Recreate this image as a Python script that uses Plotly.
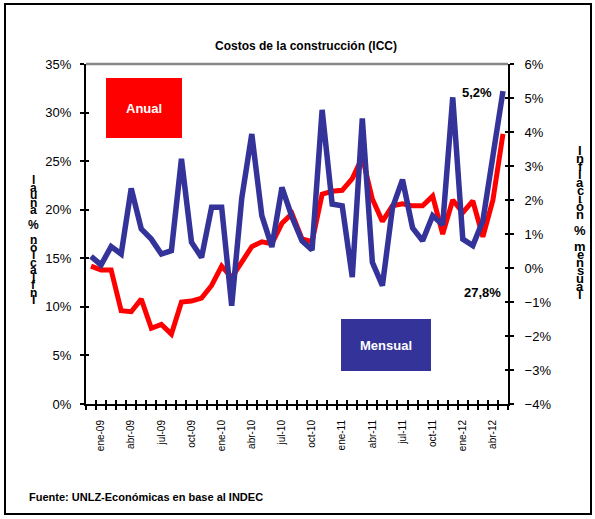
import plotly.graph_objects as go

# ---------------- data ----------------
month_abbr = ["ene", "feb", "mar", "abr", "may", "jun", "jul", "ago", "sep", "oct", "nov", "dic"]
start_year, start_month = 2008, 12  # first category: dic-08
n_points = 42
categories = []
for k in range(n_points):
    m = (start_month - 1 + k) % 12
    y = start_year + (start_month - 1 + k) // 12
    categories.append(f"{month_abbr[m]}-{str(y)[2:]}")

anual = [14.2, 13.8, 13.8, 9.6, 9.5, 10.8, 7.8, 8.2, 7.2, 10.5,
         10.6, 10.9, 12.2, 14.2, 13.0, 14.6, 16.2, 16.7, 16.5, 18.6,
         19.6, 17.0, 16.7, 21.6, 21.9, 22.0, 23.2, 25.4, 21.1, 18.8,
         20.4, 20.6, 20.4, 20.4, 21.4, 17.5, 21.0, 19.7, 20.9, 17.2,
         21.0, 27.8]
mensual = [0.34, 0.09, 0.63, 0.41, 2.34, 1.15, 0.85, 0.41, 0.51, 3.21,
           0.76, 0.31, 1.79, 1.79, -1.11, 2.05, 3.94, 1.54, 0.62, 2.37,
           1.50, 0.80, 0.53, 4.65, 1.88, 1.83, -0.27, 4.40, 0.17, -0.52,
           1.77, 2.60, 1.18, 0.80, 1.54, 1.27, 5.02, 0.85, 0.66, 1.39,
           3.30, 5.20]
label_idx = list(range(1, n_points, 3))
tick_labels = [categories[i] for i in label_idx]

title_text = "Costos de la construcción (ICC)"
left_title = "Inflación % anual"
right_title = "Inflación % mensual"
source_text = "Fuente: UNLZ-Económicas en base al INDEC"

# ---------------- layout geometry (pixels) ----------------
W, H = 595, 519
L, R, T, B = 86, 508, 64, 404
FONT = "Arial, Liberation Sans, sans-serif"
RED = "#FF0000"
BLUE = "#333399"


def px(xp):
    return (xp - L) / (R - L)


def py(yp):
    return (B - yp) / (B - T)


x = list(range(n_points))

fig = go.Figure()
fig.add_trace(go.Scatter(x=x, y=anual, mode="lines", line=dict(color=RED, width=5),
                         xaxis="x", yaxis="y", showlegend=False, hoverinfo="skip"))
fig.add_trace(go.Scatter(x=x, y=mensual, mode="lines", line=dict(color=BLUE, width=5.5),
                         xaxis="x", yaxis="y2", showlegend=False, hoverinfo="skip"))
# invisible helper traces so that the overlay axes (cross ticks, labels) get drawn
for xa, ya in [("x2", "y"), ("x3", "y"), ("x", "y3"), ("x", "y4")]:
    fig.add_trace(go.Scatter(x=[0], y=[0], mode="markers", marker=dict(opacity=0, size=1),
                             xaxis=xa, yaxis=ya, showlegend=False, hoverinfo="skip"))

xr = [-0.5, n_points - 0.5]
common_x = dict(range=xr, showgrid=False, zeroline=False, fixedrange=True)

fig.update_layout(
    width=W, height=H,
    margin=dict(l=L, r=W - R, t=T, b=H - B, pad=0),
    paper_bgcolor="white", plot_bgcolor="white",
    font=dict(family=FONT, size=13, color="black"),
    showlegend=False,
    xaxis=dict(**common_x, tickmode="linear", tick0=-0.5, dtick=1,
               ticks="outside", ticklen=4, tickwidth=1.5, tickcolor="black",
               showticklabels=False, showline=True, linewidth=2, linecolor="black"),
    xaxis2=dict(**common_x, overlaying="x", anchor="y", tickmode="linear", tick0=-0.5, dtick=1,
                ticks="inside", ticklen=4, tickwidth=1.5, tickcolor="black",
                showticklabels=False, showline=False),
    xaxis3=dict(**common_x, overlaying="x", anchor="y", tickmode="array",
                tickvals=label_idx, ticktext=tick_labels, ticks="", tickangle=-90,
                tickfont=dict(size=10, family=FONT), ticklabelstandoff=13, showline=False),
    yaxis=dict(range=[0, 35], tickmode="linear", tick0=0, dtick=5, ticksuffix="%",
               ticks="outside", ticklen=4, tickwidth=1.5, tickcolor="black",
               showline=True, linewidth=2, linecolor="black", showgrid=False, zeroline=False,
               ticklabelstandoff=6, tickfont=dict(size=13), anchor="x"),
    yaxis3=dict(range=[0, 35], overlaying="y", anchor="x", tickmode="linear", tick0=0, dtick=5,
                ticks="inside", ticklen=3, tickwidth=1.5, tickcolor="black",
                showticklabels=False, showline=False, showgrid=False, zeroline=False),
    yaxis2=dict(range=[-4, 6], overlaying="y", side="right", anchor="x", tickmode="linear",
                tick0=-4, dtick=1, ticksuffix="%", ticks="outside", ticklen=4, tickwidth=1.5,
                tickcolor="black", showline=True, linewidth=2, linecolor="black",
                showgrid=False, zeroline=False, ticklabelstandoff=8, tickfont=dict(size=13)),
    yaxis4=dict(range=[-4, 6], overlaying="y", side="right", anchor="x", tickmode="linear",
                tick0=-4, dtick=1, ticks="inside", ticklen=3, tickwidth=1.5, tickcolor="black",
                showticklabels=False, showline=False, showgrid=False, zeroline=False),
)

shapes = [
    # outer frame
    dict(type="rect", xref="paper", yref="paper", x0=px(5), x1=px(591), y0=py(514), y1=py(4),
         line=dict(color="black", width=2), fillcolor="rgba(0,0,0,0)", layer="below"),
    # plot area top border (gray)
    dict(type="line", xref="paper", yref="paper", x0=0, x1=1, y0=1, y1=1,
         line=dict(color="#888888", width=2.5)),
    # legend-like boxes
    dict(type="rect", xref="paper", yref="paper", x0=px(106), x1=px(182), y0=py(138), y1=py(78),
         line=dict(width=0), fillcolor=RED),
    dict(type="rect", xref="paper", yref="paper", x0=px(341), x1=px(431), y0=py(371), y1=py(319),
         line=dict(width=0), fillcolor=BLUE),
]
fig.update_layout(shapes=shapes)

ann = [
    dict(text=f"<b>{title_text}</b>", x=px(306), y=py(46), xref="paper", yref="paper",
         showarrow=False, font=dict(size=12, family=FONT), xanchor="center", yanchor="middle"),
    dict(text="<b>Anual</b>", x=px(144), y=py(108), xref="paper", yref="paper",
         showarrow=False, xanchor="center", yanchor="middle",
         font=dict(size=13, color="white", family=FONT)),
    dict(text="<b>Mensual</b>", x=px(386), y=py(345), xref="paper", yref="paper",
         showarrow=False, xanchor="center", yanchor="middle",
         font=dict(size=13, color="white", family=FONT)),
    dict(text=f"<b>{mensual[-1]:.1f}%</b>".replace(".", ","), x=px(494), y=py(92), xref="paper",
         yref="paper", showarrow=False, xanchor="right", yanchor="middle",
         font=dict(size=13, family=FONT)),
    dict(text=f"<b>{anual[-1]:.1f}%</b>".replace(".", ","), x=px(503), y=py(292), xref="paper",
         yref="paper", showarrow=False, xanchor="right", yanchor="middle",
         font=dict(size=13, family=FONT)),
    dict(text=f"<b>{source_text}</b>", x=px(27), y=py(497), xref="paper", yref="paper",
         showarrow=False, xanchor="left", yanchor="middle", font=dict(size=11, family=FONT)),
]

# stacked-letter axis titles
left_chars = list(left_title)[::-1]
for k, ch in enumerate(left_chars):
    if ch == " ":
        continue
    ann.append(dict(text=f"<b>{ch}</b>", x=px(33), y=py(180 + k * 7.5), xref="paper", yref="paper",
                    showarrow=False, font=dict(size=12, family=FONT), xanchor="center",
                    yanchor="middle"))
for k, ch in enumerate(right_title):
    if ch == " ":
        continue
    ann.append(dict(text=f"<b>{ch}</b>", x=px(580), y=py(150 + k * 8.0), xref="paper", yref="paper",
                    showarrow=False, font=dict(size=13, family=FONT), xanchor="center",
                    yanchor="middle"))
fig.update_layout(annotations=ann)

fig.write_html("out.html")
